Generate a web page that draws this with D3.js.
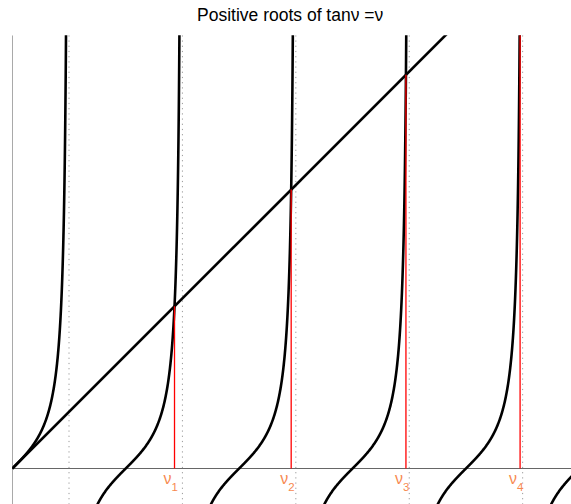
<!DOCTYPE html>
<html>
<head>
<meta charset="utf-8">
<script src="https://cdn.jsdelivr.net/npm/d3@7"></script>
<style>
  html, body { margin: 0; padding: 0; background: #fff; }
  svg { display: block; }
  text { font-family: "Liberation Sans", Arial, sans-serif; }
</style>
</head>
<body>
<script>
// ---- data ----
const titleText = ["Positive roots of tan", "ν", " =", "ν"];
const roots = [4.4934, 7.7253, 10.9041, 14.0662];           // positive roots of tan(v) = v
const rootLabels = ["1", "2", "3", "4"];
const asymptotes = [1.5708, 4.7124, 7.8540, 10.9956, 14.1372]; // odd multiples of pi/2
const branchCentres = [0, 3.1416, 6.2832, 9.4248, 12.5664, 15.7080]; // centres of tan branches
const xDomain = [0, 15.5];
const yDomain = [-1, 12];

const W = 571, H = 504;
const svg = d3.select("body").append("svg").attr("width", W).attr("height", H);

const x = d3.scaleLinear().domain(xDomain).range([12.3, 12.3 + 15.5 * 36.1]);
const y = d3.scaleLinear().domain(yDomain).range([468.5 + 36.1, 468.5 - 12 * 36.1]);

svg.append("defs").append("clipPath").attr("id", "plotclip")
  .append("rect").attr("x", x(0)).attr("y", y(12)).attr("width", W).attr("height", H);

const g = svg.append("g").attr("clip-path", "url(#plotclip)");

// axes lines
g.append("line").attr("x1", x(0)).attr("x2", W).attr("y1", y(0)).attr("y2", y(0))
  .attr("stroke", "#666").attr("stroke-width", 1);
g.append("line").attr("x1", x(0)).attr("x2", x(0)).attr("y1", y(12)).attr("y2", H)
  .attr("stroke", "#666").attr("stroke-width", 1);

// asymptotes
g.selectAll("line.asym").data(asymptotes).join("line").attr("class", "asym")
  .attr("x1", d => x(d)).attr("x2", d => x(d)).attr("y1", y(12)).attr("y2", H)
  .attr("stroke", "#999").attr("stroke-width", 1).attr("stroke-dasharray", "1.2,4");

// tan branches (graph of the function)
const line = d3.line().x(d => x(d[0])).y(d => y(d[1]));
const lim = Math.atan(60);
branchCentres.forEach(c => {
  const lo = Math.max(0, c - lim), hi = c + lim;
  const pts = d3.range(0, 601).map(i => {
    const v = lo + (hi - lo) * i / 600;
    return [v, Math.tan(v)];
  });
  g.append("path").attr("d", line(pts)).attr("fill", "none")
    .attr("stroke", "#000").attr("stroke-width", 2.6);
});

// diagonal y = v
g.append("path").attr("d", line([[0, 0], [xDomain[1], xDomain[1]]]))
  .attr("fill", "none").attr("stroke", "#000").attr("stroke-width", 2.6);

// roots
g.selectAll("line.root").data(roots).join("line").attr("class", "root")
  .attr("x1", d => x(d)).attr("x2", d => x(d)).attr("y1", y(0)).attr("y2", d => y(d))
  .attr("stroke", "#ff0000").attr("stroke-width", 1.3);

// root labels
const lab = svg.selectAll("text.rl").data(roots).join("text").attr("class", "rl")
  .attr("x", d => x(d) - 11).attr("y", 484)
  .attr("fill", "#F7894F").attr("font-size", 16);
lab.append("tspan").text("ν");
lab.append("tspan").attr("dy", 7).attr("font-size", 11.5).text((d, i) => rootLabels[i]);

// title
const t = svg.append("text").attr("x", 197).attr("y", 21).attr("text-anchor", "start")
  .attr("font-size", 17.5).attr("fill", "#000");
titleText.forEach(s => t.append("tspan").text(s));
</script>
</body>
</html>
